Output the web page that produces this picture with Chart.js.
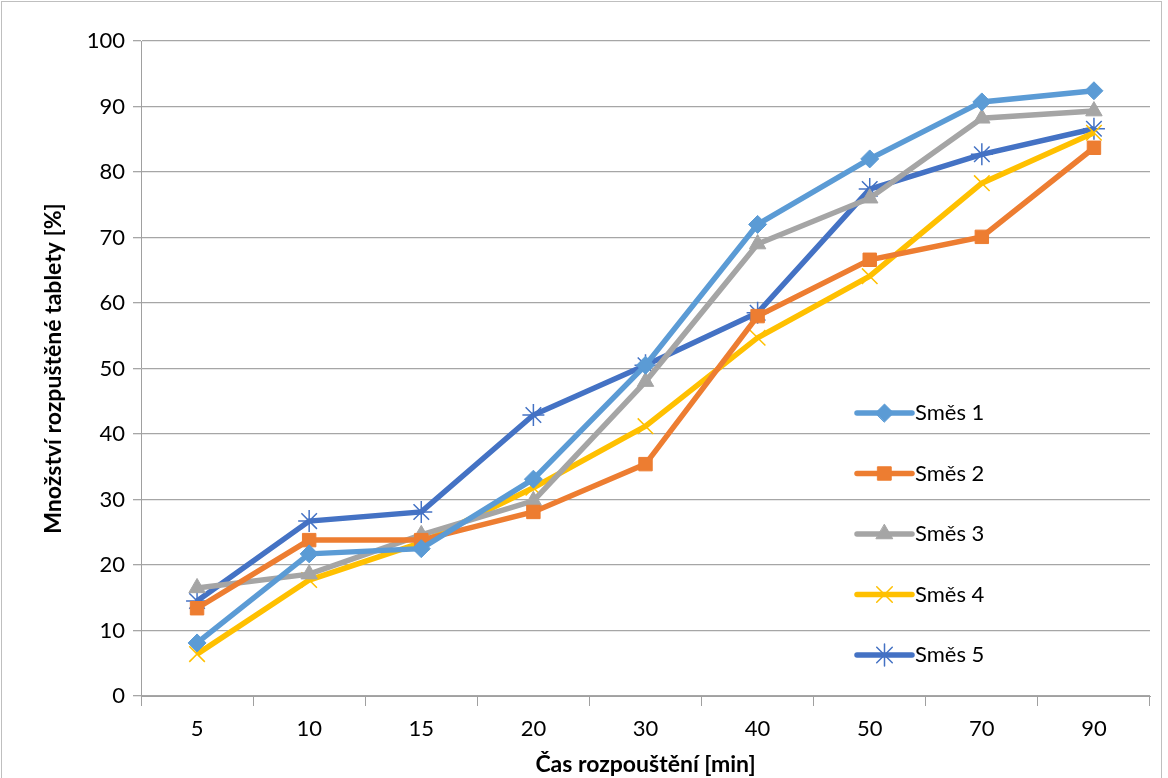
<!DOCTYPE html>
<html>
<head>
<meta charset="utf-8">
<script src="https://cdn.jsdelivr.net/npm/chart.js@4/dist/chart.umd.min.js"></script>
<style>
  html, body { margin: 0; padding: 0; background: #fff; }
  .wrap_chart { width: 1168px; height: 778px; position: relative; }
</style>
</head>
<body>
<div class="wrap_chart"><canvas id="chart"></canvas></div>
<script>
const categories = ["5", "10", "15", "20", "30", "40", "50", "70", "90"]
const smes1 = [8.1, 21.7, 22.5, 33.1, 50.5, 72.0, 82.0, 90.7, 92.4]
const smes2 = [13.4, 23.8, 23.8, 28.1, 35.4, 58.0, 66.6, 70.1, 83.7]
const smes3 = [16.5, 18.6, 24.6, 29.8, 48.0, 69.0, 76.0, 88.2, 89.3]
const smes4 = [6.4, 17.7, 23.4, 31.8, 41.2, 54.7, 64.1, 78.3, 86.0]
const smes5 = [14.5, 26.7, 28.1, 42.9, 50.5, 58.5, 77.4, 82.7, 86.6]
const seriesNames = ["Směs 1", "Směs 2", "Směs 3", "Směs 4", "Směs 5"]
const yTicks = [0, 10, 20, 30, 40, 50, 60, 70, 80, 90, 100]

const font = "Lato, 'Open Sans', sans-serif"

function series(label, data, color, style, radius, bw) {
    return {
        label: label,
        data: data,
        borderColor: color,
        backgroundColor: color,
        borderWidth: 5.5,
        pointStyle: style,
        pointRadius: radius,
        pointBorderWidth: bw,
        pointBackgroundColor: color,
        pointBorderColor: color,
        tension: 0,
    }
}

// legend drawn inside the plot area, like the original
const insideLegend = {
    id: "insideLegend",
    afterDatasetsDraw(chart) {
        const ctx = chart.ctx
        const area = chart.chartArea
        const x0 = area.left + 716
        const y0 = area.top + 372
        chart.data.datasets.forEach((ds, i) => {
            const y = y0 + i * 60.5
            ctx.save()
            ctx.strokeStyle = ds.borderColor
            ctx.lineWidth = 5.5
            ctx.lineCap = "round"
            ctx.beginPath()
            ctx.moveTo(x0, y)
            ctx.lineTo(x0 + 55, y)
            ctx.stroke()
            ctx.fillStyle = ds.backgroundColor
            ctx.strokeStyle = ds.borderColor
            ctx.lineWidth = ds.pointBorderWidth
            Chart.helpers.drawPoint(ctx, { pointStyle: ds.pointStyle, radius: ds.pointRadius, rotation: 0, borderWidth: ds.pointBorderWidth }, x0 + 27.5, y)
            ctx.fillStyle = "#000"
            ctx.font = "22px " + font
            ctx.textBaseline = "middle"
            ctx.textAlign = "left"
            ctx.fillText(ds.label, x0 + 58, y)
            ctx.restore()
        })
    }
}

const frame = {
    id: "frame",
    afterDraw(chart) {
        const ctx = chart.ctx
        ctx.save()
        ctx.strokeStyle = "#bfbfbf"
        ctx.lineWidth = 1
        ctx.strokeRect(1.5, 1.5, 1160, 800)
        ctx.restore()
    }
}

const context = document.getElementById("chart").getContext("2d")

const newChart = new Chart(context, {
    type: "line",
    data: {
        labels: categories,
        datasets: [
            series(seriesNames[0], smes1, "#5B9BD5", "rectRot", 9, 1),
            series(seriesNames[1], smes2, "#ED7D31", "rect", 9.5, 1),
            series(seriesNames[2], smes3, "#A5A5A5", "triangle", 9.5, 1),
            series(seriesNames[3], smes4, "#FFC000", "crossRot", 11, 1.5),
            series(seriesNames[4], smes5, "#4472C4", "star", 11, 1.5),
        ],
    },
    options: {
        responsive: true,
        maintainAspectRatio: false,
        animation: false,
        layout: { padding: { left: 20, top: 41, right: 18, bottom: 0 } },
        plugins: {
            legend: { display: false },
            tooltip: { enabled: false },
        },
        scales: {
            x: {
                offset: true,
                grid: {
                    offset: true,
                    drawOnChartArea: false,
                    color: "#a0a0a0",
                    tickLength: 10,
                },
                border: { color: "#a0a0a0", width: 1 },
                ticks: {
                    color: "#000",
                    font: { family: font, size: 22 },
                    padding: 10,
                    maxRotation: 0,
                },
                title: {
                    display: true,
                    text: "Čas rozpouštění [min]",
                    color: "#000",
                    font: { family: font, size: 23, weight: "bold" },
                    padding: { top: 0, bottom: 0 },
                },
                afterFit(scale) { scale.height = 82 },
            },
            y: {
                min: 0,
                max: 100,
                afterBuildTicks(scale) { scale.ticks = yTicks.map(v => ({ value: v })) },
                grid: {
                    color: "#a6a6a6",
                    lineWidth: 1.3,
                    tickLength: 8,
                },
                border: { color: "#a0a0a0", width: 1 },
                ticks: {
                    color: "#000",
                    font: { family: font, size: 22 },
                    padding: 8,
                },
                title: {
                    display: true,
                    text: "Množství rozpuštěné tablety [%]",
                    color: "#000",
                    font: { family: font, size: 23, weight: "bold" },
                    padding: { top: 20, bottom: 16 },
                },
                afterFit(scale) { scale.width = 121 },
            },
        },
    },
    plugins: [insideLegend, frame],
})
</script>
</body>
</html>
